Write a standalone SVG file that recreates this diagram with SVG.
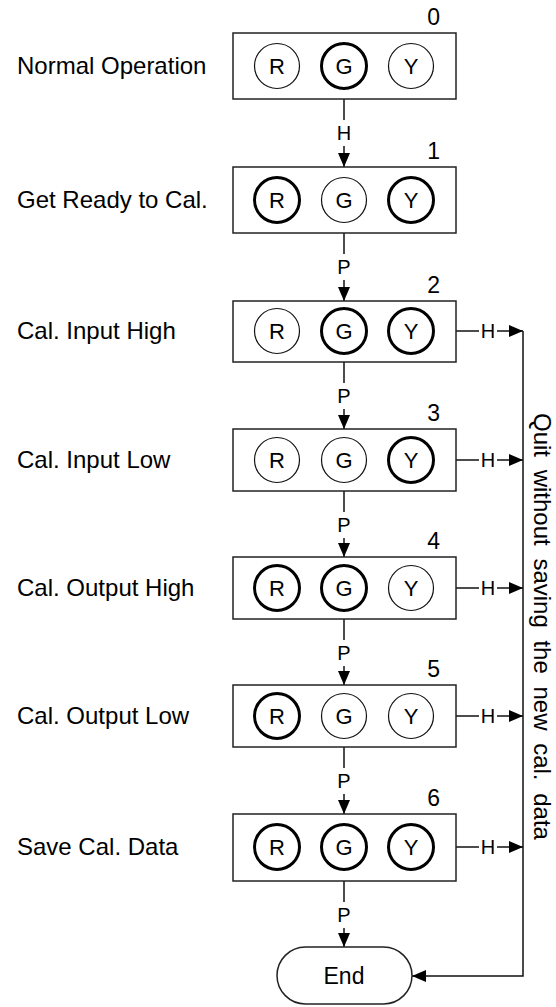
<svg xmlns="http://www.w3.org/2000/svg" width="556" height="1007" viewBox="0 0 556 1007">
<defs>
<style>
text{font-family:"Liberation Sans",Arial,sans-serif;fill:#000}
.box{fill:#fff;stroke:#222;stroke-width:1.5}
.thin{fill:#fff;stroke:#111;stroke-width:1.2}
.thick{fill:#fff;stroke:#000;stroke-width:3}
.lt{font-size:22px;text-anchor:middle}
.lbl{font-size:24px}
.num{font-size:23px;text-anchor:end}
.cl{font-size:20px;text-anchor:middle}
.ln{fill:none;stroke:#111;stroke-width:1.5}
</style>
<marker id="ah" markerUnits="userSpaceOnUse" markerWidth="14" markerHeight="12" refX="14" refY="6" orient="auto">
<path d="M0,0 L14,6 L0,12 z" fill="#000"/>
</marker>
</defs>
<rect width="556" height="1007" fill="#fff"/>

<g id="connectors">
<path class="ln" d="M344,99 V120"/><text class="cl" x="344" y="140">H</text><path class="ln" d="M344,146 V167" marker-end="url(#ah)"/>
<path class="ln" d="M344,233 V254"/><text class="cl" x="344" y="274">P</text><path class="ln" d="M344,280 V301" marker-end="url(#ah)"/>
<path class="ln" d="M344,362 V383"/><text class="cl" x="344" y="403">P</text><path class="ln" d="M344,409 V429" marker-end="url(#ah)"/>
<path class="ln" d="M344,491 V512"/><text class="cl" x="344" y="532">P</text><path class="ln" d="M344,538 V557" marker-end="url(#ah)"/>
<path class="ln" d="M344,619 V640"/><text class="cl" x="344" y="660">P</text><path class="ln" d="M344,666 V685" marker-end="url(#ah)"/>
<path class="ln" d="M344,747 V768"/><text class="cl" x="344" y="788">P</text><path class="ln" d="M344,794 V814" marker-end="url(#ah)"/>
<path class="ln" d="M344,881 V902"/><text class="cl" x="344" y="922">P</text><path class="ln" d="M344,928 V947" marker-end="url(#ah)"/>

<path class="ln" d="M456,331 H479"/><text class="cl" x="488" y="338">H</text><path class="ln" d="M497,331 H523" marker-end="url(#ah)"/>
<path class="ln" d="M456,460 H479"/><text class="cl" x="488" y="467">H</text><path class="ln" d="M497,460 H523" marker-end="url(#ah)"/>
<path class="ln" d="M456,588 H479"/><text class="cl" x="488" y="595">H</text><path class="ln" d="M497,588 H523" marker-end="url(#ah)"/>
<path class="ln" d="M456,716 H479"/><text class="cl" x="488" y="723">H</text><path class="ln" d="M497,716 H523" marker-end="url(#ah)"/>
<path class="ln" d="M456,847 H479"/><text class="cl" x="488" y="854">H</text><path class="ln" d="M497,847 H523" marker-end="url(#ah)"/>
<path class="ln" d="M523,331 V976 H412" marker-end="url(#ah)"/>
<text font-size="24" word-spacing="6" transform="translate(534,413) rotate(90)">Quit without saving the new cal. data</text>
</g>

<g id="s0">
<text class="lbl" x="17" y="74">Normal Operation</text>
<text class="num" x="440" y="25">0</text>
<rect class="box" x="233" y="33" width="223" height="66"/>
<circle class="thin" cx="277" cy="66" r="22.5"/><text class="lt" x="277" y="74">R</text>
<circle class="thick" cx="344" cy="66" r="22.5"/><text class="lt" x="344" y="74">G</text>
<circle class="thin" cx="411" cy="66" r="22.5"/><text class="lt" x="411" y="74">Y</text>
</g>
<g id="s1">
<text class="lbl" x="17" y="208">Get Ready to Cal.</text>
<text class="num" x="440" y="159">1</text>
<rect class="box" x="233" y="167" width="223" height="66"/>
<circle class="thick" cx="277" cy="200" r="22.5"/><text class="lt" x="277" y="208">R</text>
<circle class="thin" cx="344" cy="200" r="22.5"/><text class="lt" x="344" y="208">G</text>
<circle class="thick" cx="411" cy="200" r="22.5"/><text class="lt" x="411" y="208">Y</text>
</g>
<g id="s2">
<text class="lbl" x="17" y="339">Cal. Input High</text>
<text class="num" x="440" y="293">2</text>
<rect class="box" x="233" y="301" width="223" height="61"/>
<circle class="thin" cx="277" cy="331" r="22.5"/><text class="lt" x="277" y="339">R</text>
<circle class="thick" cx="344" cy="331" r="22.5"/><text class="lt" x="344" y="339">G</text>
<circle class="thick" cx="411" cy="331" r="22.5"/><text class="lt" x="411" y="339">Y</text>
</g>
<g id="s3">
<text class="lbl" x="17" y="468">Cal. Input Low</text>
<text class="num" x="440" y="421">3</text>
<rect class="box" x="233" y="429" width="223" height="62"/>
<circle class="thin" cx="277" cy="460" r="22.5"/><text class="lt" x="277" y="468">R</text>
<circle class="thin" cx="344" cy="460" r="22.5"/><text class="lt" x="344" y="468">G</text>
<circle class="thick" cx="411" cy="460" r="22.5"/><text class="lt" x="411" y="468">Y</text>
</g>
<g id="s4">
<text class="lbl" x="17" y="596">Cal. Output High</text>
<text class="num" x="440" y="549">4</text>
<rect class="box" x="233" y="557" width="223" height="62"/>
<circle class="thick" cx="277" cy="588" r="22.5"/><text class="lt" x="277" y="596">R</text>
<circle class="thick" cx="344" cy="588" r="22.5"/><text class="lt" x="344" y="596">G</text>
<circle class="thin" cx="411" cy="588" r="22.5"/><text class="lt" x="411" y="596">Y</text>
</g>
<g id="s5">
<text class="lbl" x="17" y="724">Cal. Output Low</text>
<text class="num" x="440" y="677">5</text>
<rect class="box" x="233" y="685" width="223" height="62"/>
<circle class="thick" cx="277" cy="716" r="22.5"/><text class="lt" x="277" y="724">R</text>
<circle class="thin" cx="344" cy="716" r="22.5"/><text class="lt" x="344" y="724">G</text>
<circle class="thin" cx="411" cy="716" r="22.5"/><text class="lt" x="411" y="724">Y</text>
</g>
<g id="s6">
<text class="lbl" x="17" y="855">Save Cal. Data</text>
<text class="num" x="440" y="806">6</text>
<rect class="box" x="233" y="814" width="223" height="67"/>
<circle class="thick" cx="277" cy="847" r="22.5"/><text class="lt" x="277" y="855">R</text>
<circle class="thick" cx="344" cy="847" r="22.5"/><text class="lt" x="344" y="855">G</text>
<circle class="thick" cx="411" cy="847" r="22.5"/><text class="lt" x="411" y="855">Y</text>
</g>
<g id="end">
<rect class="box" x="277" y="947" width="135" height="57" rx="28.5"/>
<text font-size="23" text-anchor="middle" x="344" y="984">End</text>
</g>
</svg>
